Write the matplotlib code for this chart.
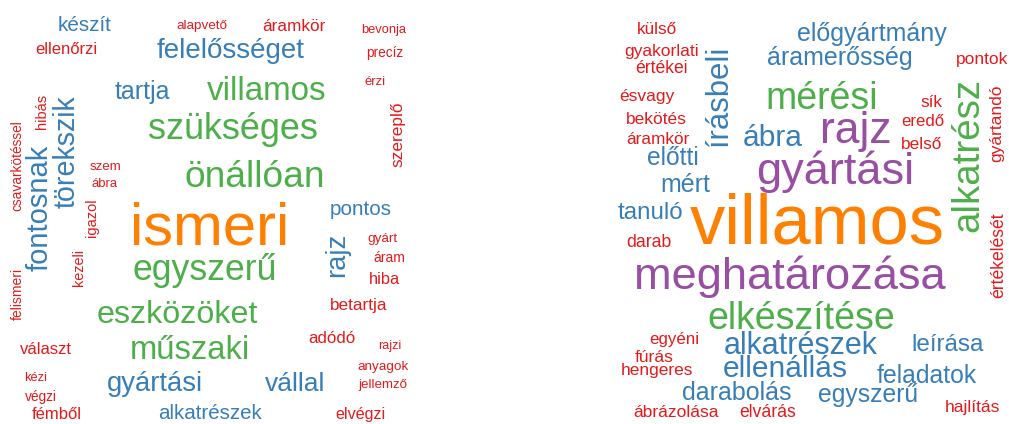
import matplotlib
matplotlib.use("Agg")
import matplotlib.pyplot as plt

# Palette (Set1-like)
RED, BLUE, GREEN, PURPLE, ORANGE = "#e41a1c", "#377eb8", "#4daf4a", "#984ea3", "#ff7f00"
palette = {"r": RED, "b": BLUE, "g": GREEN, "p": PURPLE, "o": ORANGE}

# ---------------- Left word cloud ----------------
left_words = ["készít", "ellenőrzi", "alapvető", "áramkör", "bevonja", "felelősséget",
              "precíz", "érzi", "tartja", "villamos", "szükséges", "szereplő",
              "önállóan", "törekszik", "hibás", "csavarkötéssel", "fontosnak", "szem",
              "ábra", "igazol", "kezeli", "felismeri", "ismeri", "egyszerű",
              "eszközöket", "műszaki", "gyártási", "alkatrészek", "választ", "kézi",
              "végzi", "fémből", "pontos", "rajz", "gyárt", "áram", "hiba",
              "betartja", "adódó", "rajzi", "anyagok", "jellemző", "vállal", "elvégzi"]
left_weights = [14.9, 12.0, 9.7, 12.4, 9.3, 20.0,
                9.8, 9.4, 18.0, 23.9, 25.9, 12.4,
                26.7, 20.6, 10.5, 9.9, 21.0, 9.6,
                9.4, 10.5, 10.4, 10.0, 43.0, 25.7,
                23.2, 23.6, 19.7, 14.8, 12.0, 9.3,
                9.9, 12.0, 14.9, 19.7, 9.7, 10.0, 11.8,
                12.3, 12.2, 9.0, 9.7, 9.6, 19.0, 11.6]
left_colors = ["b", "r", "r", "r", "r", "b",
               "r", "r", "b", "g", "g", "r",
               "g", "b", "r", "r", "b", "r",
               "r", "r", "r", "r", "o", "g",
               "g", "g", "b", "b", "r", "r",
               "r", "r", "b", "b", "r", "r", "r",
               "r", "r", "r", "r", "r", "b", "r"]
left_x = [85, 66, 202, 294, 384, 231,
          385, 375, 142, 267, 233, 398,
          255, 67, 42, 17, 40, 106,
          105, 92, 79, 18, 210, 205,
          177, 190, 155, 210, 46, 36,
          41, 57, 361, 337, 382, 389, 384,
          359, 332, 390, 383, 383, 295, 360]
left_y = [26, 50, 25, 27, 30, 51,
          53, 82, 92, 91, 130, 134,
          177, 152, 111, 166, 208, 167,
          184, 218, 268, 294, 229, 271,
          315, 350, 384, 414, 350, 378,
          397, 415, 210, 255, 238, 258, 280,
          306, 339, 346, 366, 385, 384, 415]
left_rot = [0, 0, 0, 0, 0, 0,
            0, 0, 0, 0, 0, 90,
            0, 90, 90, 90, 90, 0,
            0, 90, 90, 90, 0, 0,
            0, 0, 0, 0, 0, 0,
            0, 0, 0, 90, 0, 0, 0,
            0, 0, 0, 0, 0, 0, 0]

# ---------------- Right word cloud ----------------
right_words = ["külső", "gyakorlati", "értékei", "ésvagy", "bekötés", "áramkör",
               "írásbeli", "előtti", "mért", "tanuló", "ábra", "előgyártmány",
               "áramerősség", "pontok", "mérési", "rajz", "gyártási", "sík",
               "eredő", "belső", "alkatrész", "gyártandó", "értékelését", "villamos",
               "darab", "meghatározása", "elkészítése", "alkatrészek", "ellenállás",
               "egyéni", "fúrás", "hengeres", "darabolás", "ábrázolása", "elvárás",
               "leírása", "feladatok", "egyszerű", "hajlítás"]
right_weights = [12.3, 12.6, 12.7, 12.5, 12.5, 12.4,
                 22.3, 17.7, 18.0, 17.4, 21.6, 18.0,
                 18.0, 12.5, 27.0, 32.0, 32.5, 12.3,
                 12.1, 12.4, 27.7, 12.5, 12.7, 50.8,
                 12.7, 32.6, 27.0, 22.0, 21.6,
                 12.2, 12.6, 12.4, 18.0, 12.5, 12.7,
                 17.5, 17.8, 17.8, 12.5]
right_colors = ["r", "r", "r", "r", "r", "r",
                "b", "b", "b", "b", "b", "b",
                "b", "r", "g", "p", "p", "r",
                "r", "r", "g", "r", "r", "o",
                "r", "p", "g", "b", "b",
                "r", "r", "r", "b", "r", "r",
                "b", "b", "b", "r"]
right_x = [657, 662, 662, 647, 656, 658,
           719, 673, 685, 650, 773, 872,
           840, 982, 822, 856, 835, 931,
           923, 922, 968, 997, 999, 817,
           649, 790, 801, 801, 785,
           674, 654, 657, 737, 676, 768,
           948, 927, 868, 972]
right_y = [30, 51, 68, 96, 119, 140,
           96, 159, 185, 213, 138, 35,
           59, 59, 99, 131, 172, 103,
           122, 145, 155, 123, 255, 225,
           242, 277, 319, 346, 369,
           340, 357, 371, 394, 412, 412,
           345, 377, 396, 407]
right_rot = [0, 0, 0, 0, 0, 0,
             90, 0, 0, 0, 0, 0,
             0, 0, 0, 0, 0, 0,
             0, 0, 90, 90, 90, 0,
             0, 0, 0, 0, 0,
             0, 0, 0, 0, 0, 0,
             0, 0, 0, 0]

W, H, DPI = 1009, 424, 100
fig = plt.figure(figsize=(W / DPI, H / DPI), dpi=DPI)
ax = fig.add_axes([0, 0, 1, 1])
ax.set_xlim(0, W)
ax.set_ylim(H, 0)
ax.axis("off")

PT2PX = DPI / 72.0


def draw(words, weights, colors, xs, ys, rots):
    for w, s, c, x, y, r in zip(words, weights, colors, xs, ys, rots):
        if r == 0:
            # y is the middle of the x-height; place on baseline
            ax.text(x, y + 0.26 * s * PT2PX, w, fontsize=s, color=palette[c],
                    ha="center", va="baseline", family="Liberation Sans")
        else:
            ax.text(x, y, w, fontsize=s, color=palette[c], rotation=r,
                    ha="center", va="center", family="Liberation Sans")


draw(left_words, left_weights, left_colors, left_x, left_y, left_rot)
draw(right_words, right_weights, right_colors, right_x, right_y, right_rot)

fig.savefig("out.png", dpi=DPI)
